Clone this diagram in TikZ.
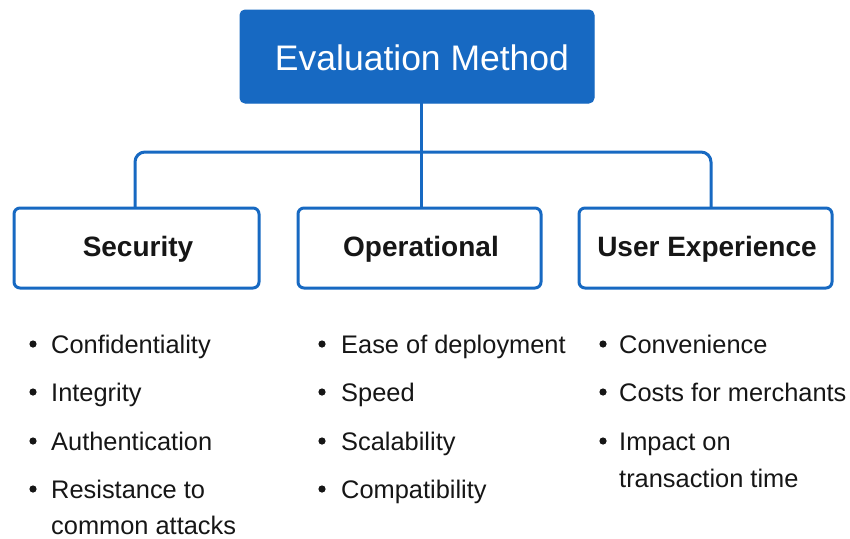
\documentclass[tikz,border=0pt]{standalone}
\usepackage{fontspec}
\setmainfont{Liberation Sans}
\definecolor{brandblue}{HTML}{1769C2}
\definecolor{inktext}{HTML}{161616}
\begin{document}
\begin{tikzpicture}[x=1pt,y=-1pt,
  rootbox/.style={draw=brandblue,fill=brandblue,rounded corners=5pt,line width=1pt},
  catbox/.style={draw=brandblue,fill=white,rounded corners=6pt,line width=3pt},
  link/.style={draw=brandblue,line width=3pt,rounded corners=10pt},
  cattext/.style={font=\bfseries\fontsize{28}{32}\selectfont,text=inktext},
  item/.style={anchor=base west,inner sep=0pt,text=inktext,font=\fontsize{25.4}{30}\selectfont},
  dot/.style={fill=inktext,draw=none}]
\useasboundingbox (0,0) rectangle (850,538);
\fill[white] (0,0) rectangle (850,538);

% tree connectors
\draw[link] (135,208) -- (135,152) -- (711,152) -- (711,208);
\draw[link,rounded corners=0pt] (421,103) -- (421,208);

% root node
\draw[rootbox] (240,10) rectangle (594,103);
\node[text=white,font=\fontsize{35.5}{40}\selectfont] (root) at (422,58) {Evaluation Method};

% category boxes
\draw[catbox] (14,208) rectangle (259,288);
\node[cattext] (sec) at (138,249) {Security};
\draw[catbox] (298,208) rectangle (541,288);
\node[cattext] (ops) at (421,249) {Operational};
\draw[catbox] (579,208) rectangle (832,288);
\node[cattext] (ux) at (707,249) {User Experience};

% security items
\foreach \y/\t in {353/Confidentiality,401/Integrity,450/Authentication,498/Resistance to}{
  \fill[dot] (33,\y-9) circle (3.6);
  \node[item] at (51,\y) {\t};
}
\node[item] (secwrap) at (51,534) {common attacks};

% operational items
\foreach \y/\t in {353/Ease of deployment,401/Speed,450/Scalability,498/Compatibility}{
  \fill[dot] (322,\y-9) circle (3.6);
  \node[item] at (341,\y) {\t};
}

% user experience items
\foreach \y/\t in {353/Convenience,401/Costs for merchants,450/Impact on}{
  \fill[dot] (603,\y-9) circle (3.6);
  \node[item] at (619,\y) {\t};
}
\node[item] (uxwrap) at (619,487) {transaction time};
\end{tikzpicture}
\end{document}
